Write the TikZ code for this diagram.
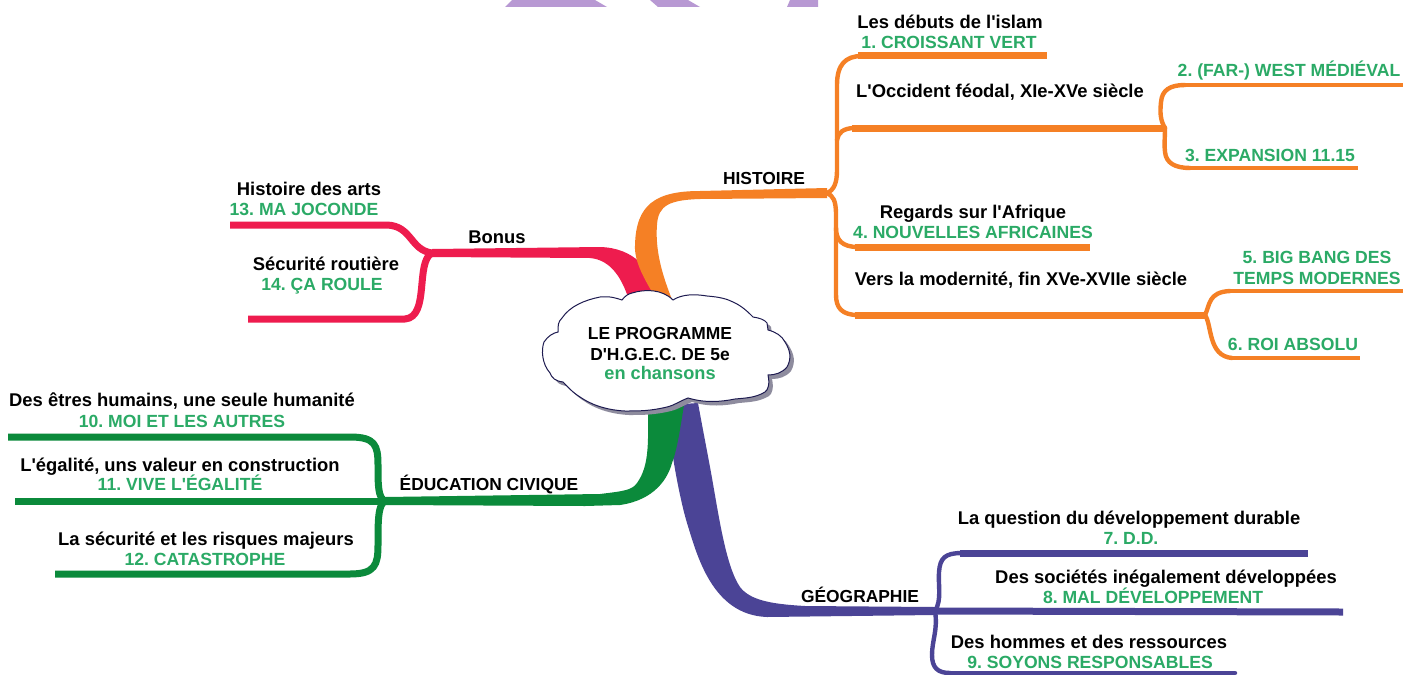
\documentclass[tikz,border=0pt]{standalone}
\usepackage{fontspec}
\setmainfont{Liberation Sans}
\definecolor{cor}{HTML}{F58025}
\definecolor{cre}{HTML}{EE1C4E}
\definecolor{cgr}{HTML}{0B8A3B}
\definecolor{cpu}{HTML}{4B4496}
\definecolor{ctx}{HTML}{2BAA66}
\definecolor{cla}{HTML}{B899D3}
\definecolor{csh}{HTML}{8E8C9E}
\definecolor{ccl}{HTML}{1E1B50}
\newcommand{\ap}{\textquotesingle}
\newcommand{\cloudpath}{(673,300) .. controls (682,294) and (695,294) .. (707,296)
 .. controls (720,297) and (727,299) .. (733,302) .. controls (742,306) and (748,312) .. (753,317)
 .. controls (760,318) and (765,320) .. (767,323) -- (768,330) .. controls (776,332) and (782,336) .. (785,342)
 .. controls (790,350) and (792,358) .. (787,367) .. controls (782,373) and (775,375) .. (768,375)
 .. controls (770,384) and (768,390) .. (765,392) .. controls (755,398) and (745,398) .. (735,399)
 .. controls (720,402) and (705,403) .. (688,398) .. controls (680,401) and (675,405) .. (667,407)
 .. controls (650,411) and (640,411) .. (625,411) .. controls (605,410) and (590,404) .. (580,397)
 .. controls (572,392) and (568,387) .. (563,382) .. controls (555,381) and (552,378) .. (550,373)
 .. controls (542,364) and (541,350) .. (544,342) .. controls (548,336) and (553,333) .. (558,332)
 .. controls (558,325) and (558,322) .. (562,318) .. controls (570,306) and (585,300) .. (600,297)
 .. controls (610,296) and (616,298) .. (622,300) .. controls (625,296) and (628,294) .. (632,293)
 .. controls (645,289) and (662,289) .. (673,300) -- cycle}
\tikzset{
 x=0.5pt,y=-0.5pt,
 lab/.style={inner sep=0pt,align=center,text height=6.4pt,text depth=0pt},
 blk/.style={lab,font=\bfseries\fontsize{9.2}{10}\selectfont\frenchspacing,text=black},
 capslab/.style={lab,font=\bfseries\fontsize{8.7}{10}\selectfont\frenchspacing,text=black},
 grn/.style={lab,font=\bfseries\fontsize{8.8}{10}\selectfont\frenchspacing,text=ctx},
 arm/.style={line width=3.5pt,line cap=butt,line join=round},
 thinarm/.style={line width=2.4pt,line cap=butt,line join=round},
 stem/.style={line width=2.2pt,line cap=round},
 cloudst/.style={draw=ccl,line width=0.5pt,fill=white}
}
\begin{document}
\begin{tikzpicture}
\useasboundingbox (0,0) rectangle (1416,674);
\fill[white] (0,0) rectangle (1416,674);
% top fragments
\fill[cla] (512,0) -- (595,0) -- (607,7) -- (505,7) -- cycle;
\fill[cla] (650,0) -- (688,0) -- (700,7) -- (658,7) -- cycle;
\fill[cla] (790,0) -- (818,0) -- (818,7) -- (787,7) -- cycle;

% junctions and free ends
\coordinate (jh) at (827,193);
\coordinate (jo) at (1165,128);
\coordinate (jm) at (1205,315);
\coordinate (jb) at (432,253);
\coordinate (je) at (385,501);
\coordinate (jg) at (935,611);
\coordinate (e1) at (1047,56);
\coordinate (e2) at (1403,85);
\coordinate (e3) at (1358,168);
\coordinate (e4) at (1090,247);
\coordinate (e5) at (1403,291);
\coordinate (e6) at (1360,358);
\coordinate (e7) at (1308,553);
\coordinate (e8) at (1343,612);
\coordinate (e9) at (1235,673);
\coordinate (e10) at (8,437);
\coordinate (e11) at (15,501);
\coordinate (e12) at (55,574);
\coordinate (e13) at (230,225);
\coordinate (e14) at (248,319);

% thick tapered trunks
\fill[cpu] (668,405) .. controls (668,440) and (680,500) .. (687,523) .. controls (697,555) and (712,615) .. (767,617)
 -- (935,615) -- (935,607) -- (805,606) .. controls (770,604) and (750,600) .. (740,587) .. controls (725,565) and (718,510) .. (710,467)
 .. controls (704,435) and (702,425) .. (698,403) -- cycle;
\fill[cgr] (648,405) .. controls (648,440) and (650,465) .. (637,483) .. controls (632,490) and (625,491) .. (600,494)
 -- (385,497) -- (385,505) -- (585,506) -- (620,505) .. controls (655,500) and (668,478) .. (672,463) .. controls (677,450) and (680,430) .. (684,405) -- cycle;
\fill[cre] (660,293) .. controls (650,270) and (635,248) .. (600,247) -- (432,249) -- (432,257) -- (590,258) .. controls (612,260) and (622,280) .. (628,297) -- cycle;
\fill[cor] (673,302) .. controls (662,275) and (655,250) .. (657,225) .. controls (658,205) and (670,200) .. (700,199)
 -- (827,198) -- (827,188) -- (700,191) .. controls (655,191) and (636,205) .. (635,245) .. controls (634,262) and (645,280) .. (655,297) -- cycle;

% orange branches
\draw[stem,cor] (jh) .. controls (834,190) and (837,183) .. (837,170) -- (837,85) .. controls (837,65) and (845,56) .. (862,56);
\draw[arm,cor] (858,56) -- (e1);
\draw[stem,cor] (837,140) .. controls (838,133) and (843,128) .. (855,128);
\draw[arm,cor] (852,128) -- (jo);
\draw[stem,cor] (jo) .. controls (1160,120) and (1160,112) .. (1161,102) .. controls (1162,90) and (1170,85) .. (1185,85);
\draw[thinarm,cor] (1183,85) -- (e2);
\draw[stem,cor] (jo) .. controls (1165,138) and (1164,145) .. (1165,152) .. controls (1166,163) and (1175,168) .. (1190,168);
\draw[thinarm,cor] (1188,168) -- (e3);
\draw[stem,cor] (jh) .. controls (833,196) and (836,200) .. (836,215) -- (836,228) .. controls (836,240) and (842,247) .. (858,247);
\draw[arm,cor] (855,247) -- (e4);
\draw[stem,cor] (836,228) -- (836,295) .. controls (836,308) and (842,315) .. (858,315);
\draw[arm,cor] (855,315) -- (jm);
\draw[stem,cor] (jm) .. controls (1210,305) and (1208,292) .. (1230,291);
\draw[thinarm,cor] (1228,291) -- (e5);
\draw[stem,cor] (jm) .. controls (1212,325) and (1208,356) .. (1232,358);
\draw[thinarm,cor] (1230,358) -- (e6);

% red branches
\draw[arm,cre] (e13) -- (387,225) .. controls (412,226) and (410,250) .. (jb);
\draw[arm,cre] (e14) -- (405,319) .. controls (430,317) and (415,262) .. (jb);

% green branches
\draw[arm,cgr] (e10) -- (350,437) .. controls (375,437) and (378,445) .. (378,465) .. controls (378,485) and (378,498) .. (je);
\draw[arm,cgr] (e11) -- (je);
\draw[arm,cgr] (e12) -- (350,574) .. controls (375,574) and (378,565) .. (378,545) .. controls (378,520) and (378,505) .. (je);

% purple branches
\draw[stem,cpu] (jg) .. controls (942,600) and (938,585) .. (939,572) .. controls (940,558) and (945,553) .. (962,553);
\draw[arm,cpu] (960,553) -- (e7);
\draw[arm,cpu] (jg) -- (e8);
\draw[stem,cpu] (jg) .. controls (938,630) and (932,640) .. (932,655) .. controls (932,668) and (938,673) .. (950,673);
\draw[stem,cpu] (948,673) -- (e9);

% cloud
\fill[csh,shift={(4,4)}] \cloudpath;
\draw[cloudst] \cloudpath;
\node[capslab] (ct1) at (660,333) {LE PROGRAMME};
\node[capslab] (ct2) at (660,354) {D\ap H.G.E.C. DE 5e};
\node[grn,font=\bfseries\fontsize{9.1}{10}\selectfont] (ct3) at (660,373) {en chansons};

% main labels
\node[capslab] (lh) at (764,178) {HISTOIRE};
\node[blk] (lb) at (497,237) {Bonus};
\node[capslab] (le) at (489,484) {ÉDUCATION CIVIQUE};
\node[capslab] (lg) at (860,596) {GÉOGRAPHIE};

% leaves
\node[blk] (a1) at (950,22) {Les débuts de l\ap islam};
\node[grn] (b1) at (949,42) {1. CROISSANT VERT};
\node[blk] (a2) at (1000,91) {L\ap Occident féodal, XIe-XVe siècle};
\node[grn] (b2) at (1289,70) {2. (FAR-) WEST MÉDIÉVAL};
\node[grn] (b3) at (1270,155) {3. EXPANSION 11.15};
\node[blk] (a4) at (973,212) {Regards sur l\ap Afrique};
\node[grn] (b4) at (973,232) {4. NOUVELLES AFRICAINES};
\node[blk] (a5) at (1021,279) {Vers la modernité, fin XVe-XVIIe siècle};
\node[grn] (b5) at (1317,257) {5. BIG BANG DES};
\node[grn] (b5b) at (1317,278) {TEMPS MODERNES};
\node[grn] (b6) at (1293,344) {6. ROI ABSOLU};
\node[blk] (a7) at (1129,518) {La question du développement durable};
\node[grn] (b7) at (1131,538) {7. D.D.};
\node[blk] (a8) at (1166,577) {Des sociétés inégalement développées};
\node[grn] (b8) at (1153,597) {8. MAL DÉVELOPPEMENT};
\node[blk] (a9) at (1089,642) {Des hommes et des ressources};
\node[grn] (b9) at (1090,662) {9. SOYONS RESPONSABLES};
\node[blk] (a10) at (182,400) {Des êtres humains, une seule humanité};
\node[grn] (b10) at (182,421) {10. MOI ET LES AUTRES};
\node[blk] (a11) at (180,465) {L\ap égalité, uns valeur en construction};
\node[grn] (b11) at (180,484) {11. VIVE L\ap ÉGALITÉ};
\node[blk] (a12) at (206,539) {La sécurité et les risques majeurs};
\node[grn] (b12) at (205,559) {12. CATASTROPHE};
\node[blk] (a13) at (309,189) {Histoire des arts};
\node[grn] (b13) at (304,209) {13. MA JOCONDE};
\node[blk] (a14) at (326,264) {Sécurité routière};
\node[grn] (b14) at (322,284) {14. ÇA ROULE};
\end{tikzpicture}
\end{document}
